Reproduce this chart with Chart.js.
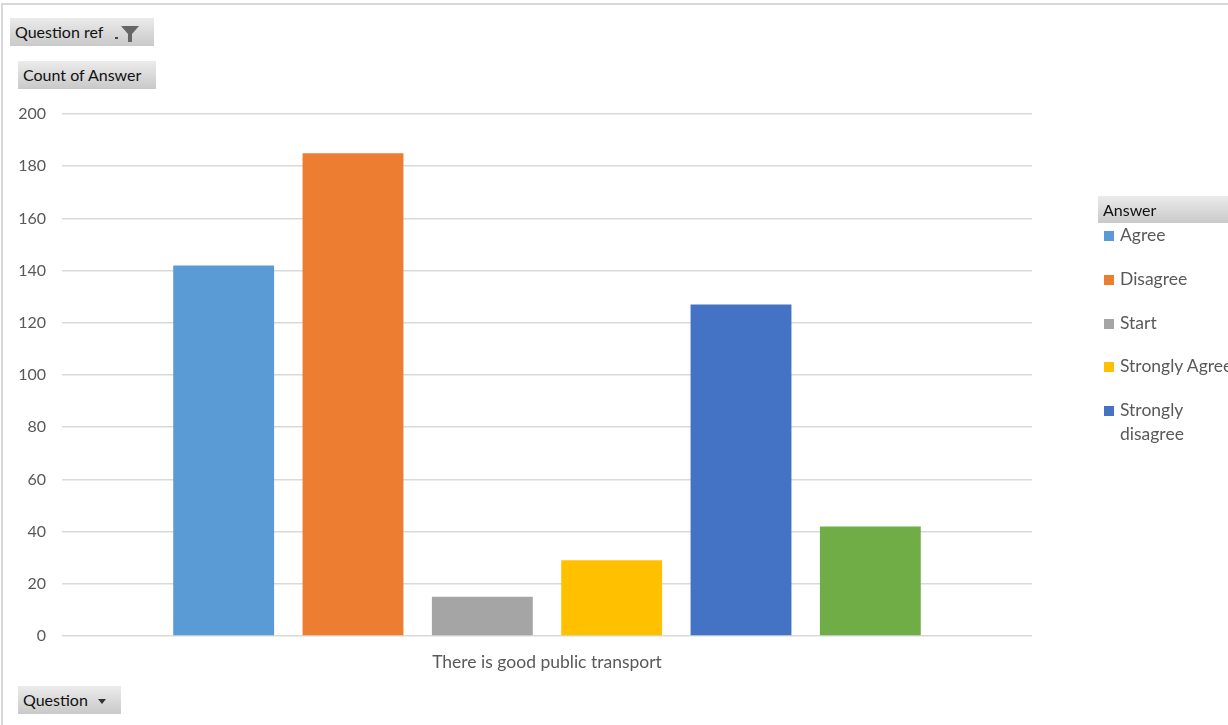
<!DOCTYPE html>
<html>
<head>
<meta charset="utf-8">
<title>Count of Answer</title>
<script src="https://cdn.jsdelivr.net/npm/chart.js@4"></script>
<style>
  body { margin: 0; background: #fff; font-family: Lato, "Open Sans", sans-serif; }
  #wrap { position: relative; width: 1228px; height: 725px; overflow: hidden; }
  #frame { position: absolute; left: 1px; top: 3px; width: 1240px; height: 740px;
           border-top: 2px solid #d9d9d9; border-left: 2px solid #d9d9d9; box-sizing: border-box; }
  canvas { position: absolute; left: 0; top: 0; }
  .btn { position: absolute; height: 28px; line-height: 28px; font-size: 16px; color: #111;
         background: linear-gradient(#ebebeb, #c9c9c9); padding: 0 5px; box-sizing: border-box;
         white-space: nowrap; }
  .arrow { display: inline-block; width: 0; height: 0; border-left: 4px solid transparent;
           border-right: 4px solid transparent; border-top: 5px solid #333; vertical-align: middle; margin-left: 10px; }
  #legend { position: absolute; left: 1098px; top: 196px; width: 140px; height: 249px; overflow: hidden; }
  #legend .head { position: relative; left: 0; top: 0; width: 140px; }
  #legend ul { list-style: none; margin: 0; padding: 0; }
  #legend li { position: relative; padding-left: 22px; font-size: 17.5px; color: #595959;
               line-height: 24px; height: 43.8px; white-space: nowrap; }
  #legend li.wrap { white-space: normal; width: 80px; }
  #legend li span.box { position: absolute; left: 6px; top: 8px; width: 10px; height: 10px; }
</style>
</head>
<body>
<div id="wrap">
  <div id="frame"></div>
  <canvas id="chart" width="1228" height="725"></canvas>
  <div class="btn" style="left:10px;top:18px;width:144px;">Question ref
    <svg width="28" height="20" viewBox="0 0 28 20" style="vertical-align:middle;margin-left:6px">
      <rect x="2" y="13" width="3" height="2" fill="#444"/>
      <path d="M8 2 H26 L19 10 V18 H15 V10 Z" fill="#666"/>
    </svg>
  </div>
  <div class="btn" style="left:18px;top:61px;width:138px;">Count of Answer</div>
  <div class="btn" style="left:18px;top:686px;width:103px;">Question<span class="arrow"></span></div>
  <div id="legend">
    <div class="btn head" style="height:27px;line-height:27px;">Answer<span class="arrow" style="margin-left:72px"></span></div>
    <ul id="legend-items"></ul>
  </div>
</div>
<script>
// Данные диаграммы
const categories = ['There is good public transport'];
const answers = ['Agree', 'Disagree', 'Start', 'Strongly Agree', 'Strongly disagree', 'Neutral'];
const counts = [142, 185, 15, 29, 127, 42];
const colors = ['#5b9bd5', '#ed7d31', '#a5a5a5', '#ffc000', '#4472c4', '#70ad47'];
const yTicks = [0, 20, 40, 60, 80, 100, 120, 140, 160, 180, 200];

const datasets = answers.map((name, i) => ({
  label: name,
  data: [counts[i]],
  backgroundColor: colors[i],
  borderWidth: 0,
  categoryPercentage: 0.8,
  barPercentage: 0.78
}));

const chart = new Chart(document.getElementById('chart'), {
  type: 'bar',
  data: { labels: categories, datasets: datasets },
  options: {
    responsive: false,
    animation: false,
    layout: { padding: { top: 114, right: 196, left: 0, bottom: 0 } },
    plugins: { legend: { display: false }, tooltip: { enabled: false } },
    scales: {
      x: {
        grid: { display: false },
        border: { display: false },
        ticks: { color: '#595959', font: { family: 'Lato', size: 17.5 }, padding: 8 },
        afterFit: s => { s.height = 89; }
      },
      y: {
        min: 0,
        max: 200,
        afterBuildTicks: s => { s.ticks = yTicks.map(v => ({ value: v })); },
        grid: { color: '#d9d9d9', lineWidth: 1.5, drawTicks: false },
        border: { display: false },
        ticks: { color: '#595959', font: { family: 'Lato', size: 16 }, padding: 16 },
        afterFit: s => { s.width = 62; }
      }
    }
  }
});

// Легенда справа (как в сводной диаграмме Excel)
const list = document.getElementById('legend-items');
chart.data.datasets.forEach((ds, i) => {
  const li = document.createElement('li');
  if (ds.label === 'Strongly disagree') li.className = 'wrap';
  const box = document.createElement('span');
  box.className = 'box';
  box.style.background = ds.backgroundColor;
  li.appendChild(box);
  li.appendChild(document.createTextNode(ds.label));
  list.appendChild(li);
});
</script>
</body>
</html>
